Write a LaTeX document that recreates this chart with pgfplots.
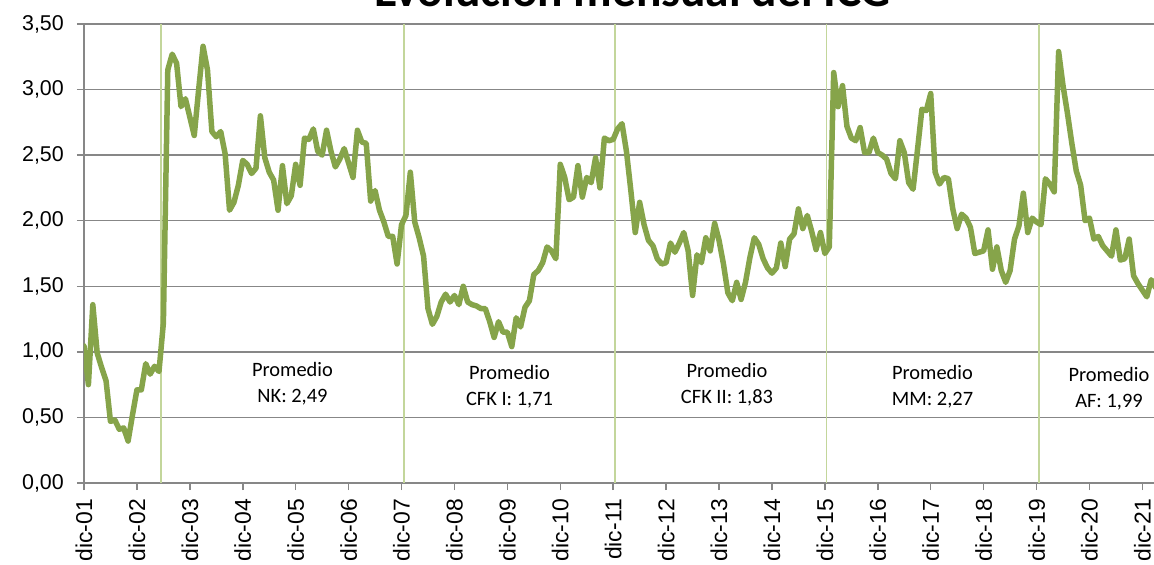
\documentclass[border=0pt]{standalone}
\usepackage{fontspec}
\setmainfont{Liberation Sans}
\newfontfamily\calibri{Carlito}
\usepackage{pgfplots}
\usepackage{pgfplotstable}
\pgfplotsset{compat=1.18}
\definecolor{lineg}{HTML}{86A44A}
\definecolor{vlg}{HTML}{C3D69B}
\definecolor{gridg}{HTML}{878787}

\pgfplotstableread{
m v
0 1.045
1 0.75
2 1.36
3 0.99
4 0.88
5 0.78
6 0.47
7 0.48
8 0.41
9 0.42
10 0.32
11 0.52
12 0.71
13 0.71
14 0.91
15 0.83
16 0.89
17 0.85
18 1.22
19 3.15
20 3.27
21 3.20
22 2.87
23 2.93
24 2.79
25 2.65
26 3.00
27 3.33
28 3.15
29 2.68
30 2.64
31 2.68
32 2.51
33 2.08
34 2.14
35 2.27
36 2.46
37 2.43
38 2.36
39 2.40
40 2.80
41 2.48
42 2.37
43 2.31
44 2.08
45 2.42
46 2.13
47 2.19
48 2.43
49 2.27
50 2.63
51 2.62
52 2.70
53 2.53
54 2.50
55 2.69
56 2.53
57 2.41
58 2.47
59 2.55
60 2.44
61 2.33
62 2.69
63 2.60
64 2.59
65 2.15
66 2.23
67 2.08
68 1.99
69 1.88
70 1.88
71 1.67
72 1.97
73 2.04
74 2.37
75 1.99
76 1.87
77 1.73
78 1.33
79 1.21
80 1.27
81 1.38
82 1.44
83 1.38
84 1.43
85 1.36
86 1.50
87 1.38
88 1.36
89 1.35
90 1.33
91 1.33
92 1.23
93 1.11
94 1.23
95 1.15
96 1.15
97 1.04
98 1.26
99 1.19
100 1.34
101 1.39
102 1.59
103 1.62
104 1.68
105 1.80
106 1.77
107 1.71
108 2.43
109 2.33
110 2.16
111 2.18
112 2.42
113 2.18
114 2.33
115 2.29
116 2.48
117 2.25
118 2.63
119 2.61
120 2.62
121 2.70
122 2.74
123 2.53
124 2.23
125 1.91
126 2.14
127 1.97
128 1.85
129 1.81
130 1.71
131 1.67
132 1.68
133 1.83
134 1.76
135 1.83
136 1.91
137 1.77
138 1.43
139 1.74
140 1.68
141 1.87
142 1.77
143 1.98
144 1.85
145 1.67
146 1.45
147 1.39
148 1.53
149 1.40
150 1.53
151 1.72
152 1.87
153 1.82
154 1.71
155 1.64
156 1.60
157 1.64
158 1.83
159 1.65
160 1.86
161 1.90
162 2.09
163 1.94
164 2.04
165 1.92
166 1.78
167 1.91
168 1.75
169 1.80
170 3.13
171 2.87
172 3.03
173 2.72
174 2.63
175 2.61
176 2.71
177 2.52
178 2.52
179 2.63
180 2.52
181 2.50
182 2.47
183 2.36
184 2.32
185 2.61
186 2.52
187 2.29
188 2.24
189 2.54
190 2.85
191 2.84
192 2.97
193 2.37
194 2.28
195 2.33
196 2.32
197 2.09
198 1.94
199 2.05
200 2.02
201 1.95
202 1.75
203 1.76
204 1.77
205 1.93
206 1.63
207 1.80
208 1.62
209 1.53
210 1.62
211 1.86
212 1.96
213 2.21
214 1.91
215 2.02
216 1.99
217 1.97
218 2.32
219 2.28
220 2.22
221 3.29
222 3.03
223 2.82
224 2.59
225 2.38
226 2.27
227 2.00
228 2.02
229 1.86
230 1.88
231 1.81
232 1.77
233 1.73
234 1.93
235 1.70
236 1.71
237 1.86
238 1.58
239 1.52
240 1.47
241 1.42
242 1.55
243 1.49
}\icg

\begin{document}
\begin{tikzpicture}
\begin{axis}[
  at={(0,0)}, anchor=origin,
  x=4.41bp, y=131.14bp,
  xmin=0, xmax=246, ymin=0, ymax=3.5,
  axis x line=bottom, axis y line=left,
  axis line style={draw=gridg, line width=1.5bp, -},
  every outer x axis line/.append style={-},
  every outer y axis line/.append style={-},
  xtick={0,12,24,36,48,60,72,84,96,108,120,132,144,156,168,180,192,204,216,228,240},
  xticklabels={dic-01,dic-02,dic-03,dic-04,dic-05,dic-06,dic-07,dic-08,dic-09,dic-10,dic-11,dic-12,dic-13,dic-14,dic-15,dic-16,dic-17,dic-18,dic-19,dic-20,dic-21},
  xticklabel style={rotate=90, anchor=east, font=\fontsize{23}{23}\selectfont, inner sep=0pt, xshift=-9bp},
  ytick={0,0.5,1,1.5,2,2.5,3,3.5},
  yticklabel style={font=\fontsize{21.5}{21.5}\selectfont, inner sep=0pt, xshift=-13bp,
    /pgf/number format/.cd, fixed, fixed zerofill, precision=2, use comma, assume math mode=true},
  ymajorgrids, grid style={draw=gridg, line width=1.5bp},
  tick align=outside, major tick length=7bp,
  tick style={draw=gridg, line width=1.5bp},
]
\foreach \xv in {17.4,72.6,120.4,168.4,216.6}{
  \edef\tmp{\noexpand\draw[vlg, line width=1.6bp] (axis cs:\xv,0) -- (axis cs:\xv,3.5);}\tmp
}
\addplot[lineg, line width=5.5bp, line join=round, line cap=round] table[x=m, y=v] {\icg};
\end{axis}
\begin{scope}[font=\calibri\fontsize{20.5}{20.5}\selectfont]
\node[anchor=base] at (208.5bp,106bp) {Promedio};
\node[anchor=base] at (208.5bp,80bp) {NK: 2,49};
\node[anchor=base] at (425.5bp,103bp) {Promedio};
\node[anchor=base] at (425.5bp,77bp) {CFK I: 1,71};
\node[anchor=base] at (643bp,105bp) {Promedio};
\node[anchor=base] at (643bp,79bp) {CFK II: 1,83};
\node[anchor=base] at (848.5bp,103bp) {Promedio};
\node[anchor=base] at (848.5bp,77bp) {MM: 2,27};
\node[anchor=base] at (1025bp,101bp) {Promedio};
\node[anchor=base] at (1025bp,75bp) {AF: 1,99};
\end{scope}
\node[anchor=base, font=\calibri\bfseries\fontsize{47.6}{47.6}\selectfont] at (548.5bp,476bp) {Evolución mensual del ICG};
\pgfresetboundingbox
\useasboundingbox (-84bp,-82bp) rectangle (1070bp,483bp);
\end{tikzpicture}
\end{document}
